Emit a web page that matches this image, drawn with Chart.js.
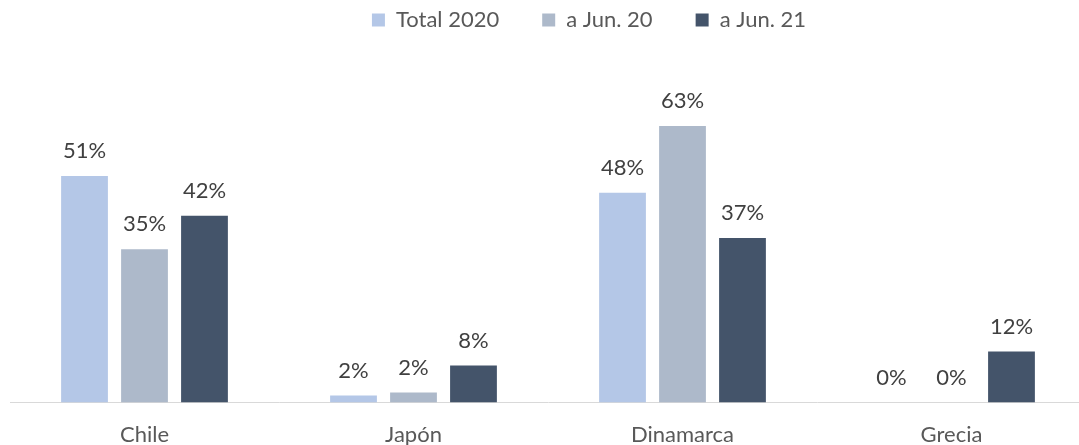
<!DOCTYPE html>
<html>
<head>
<meta charset="utf-8">
<script src="https://cdn.jsdelivr.net/npm/chart.js@4/dist/chart.umd.min.js"></script>
<style>
  html, body { margin: 0; padding: 0; background: #ffffff; overflow: hidden; }
  #wrap { width: 1079px; height: 445px; overflow: hidden; }
</style>
</head>
<body>
<div id="wrap"><canvas id="c" width="1087" height="445"></canvas></div>
<script>
const categories = ["Chile", "Japón", "Dinamarca", "Grecia"];
const seriesNames = ["Total 2020", "a Jun. 20", "a Jun. 21"];
const total2020 = [51.4, 1.6, 47.6, 0];
const aJun20 = [34.8, 2.3, 62.7, 0];
const aJun21 = [42.4, 8.4, 37.3, 11.6];
const colors = ["#b4c7e7", "#adb9ca", "#44546a"];

const labelPlugin = {
  id: "barLabels",
  afterLayout(chart) {
    // shift the legend block to the right, as in the reference
    const lg = chart.legend;
    if (lg) { lg.left += 41; lg.right += 41; }
  },
  afterDatasetsDraw(chart) {
    const ctx = chart.ctx;
    ctx.save();
    ctx.font = "22px Lato";
    ctx.fillStyle = "#404040";
    ctx.textAlign = "center";
    ctx.textBaseline = "middle";
    chart.data.datasets.forEach((ds, i) => {
      const meta = chart.getDatasetMeta(i);
      meta.data.forEach((bar, j) => {
        const v = ds.data[j];
        ctx.fillText(Math.round(v) + "%", bar.x, bar.y - 25);
      });
    });
    ctx.restore();
  }
};

new Chart(document.getElementById("c"), {
  type: "bar",
  data: {
    labels: categories,
    datasets: [
      { label: seriesNames[0], data: total2020, backgroundColor: colors[0] },
      { label: seriesNames[1], data: aJun20, backgroundColor: colors[1] },
      { label: seriesNames[2], data: aJun21, backgroundColor: colors[2] }
    ]
  },
  options: {
    responsive: false,
    animation: false,
    devicePixelRatio: 1,
    layout: { padding: { left: 10, right: 1, top: -34, bottom: -14 } },
    datasets: { bar: { categoryPercentage: 0.669, barPercentage: 0.78 } },
    plugins: {
      legend: {
        position: "top",
        labels: {
          font: { family: "Lato", size: 22 },
          color: "#595959",
          boxWidth: 13,
          boxHeight: 13,
          padding: 43
        }
      },
      tooltip: { enabled: false }
    },
    scales: {
      x: {
        grid: { display: false },
        border: { display: true, color: "#d9d9d9", width: 1 },
        ticks: { font: { family: "Lato", size: 22 }, color: "#595959", padding: 11 }
      },
      y: {
        display: false,
        min: 0,
        max: 82
      }
    }
  },
  plugins: [labelPlugin]
});
</script>
</body>
</html>
